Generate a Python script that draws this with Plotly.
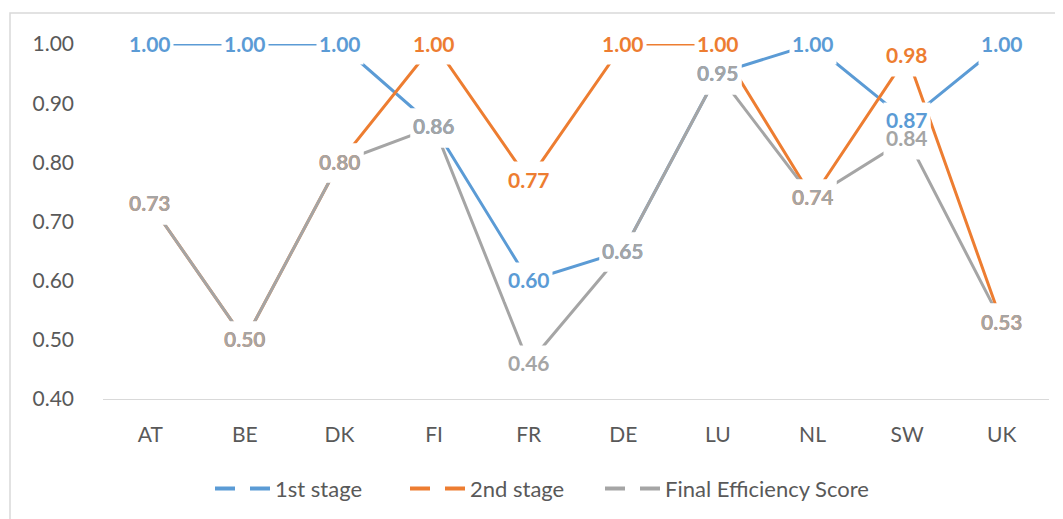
import plotly.graph_objects as go

categories = ["AT", "BE", "DK", "FI", "FR", "DE", "LU", "NL", "SW", "UK"]
stage1 = [1.00, 1.00, 1.00, 0.86, 0.60, 0.65, 0.95, 1.00, 0.87, 1.00]
stage2 = [0.73, 0.50, 0.80, 1.00, 0.77, 1.00, 1.00, 0.74, 0.98, 0.53]
final_score = [0.73, 0.50, 0.80, 0.86, 0.46, 0.65, 0.95, 0.74, 0.84, 0.53]
series_names = ["1st stage", "2nd stage", "Final Efficiency Score"]
y_ticks = [0.40, 0.50, 0.60, 0.70, 0.80, 0.90, 1.00]
y_tick_text = ["0.40", "0.50", "0.60", "0.70", "0.80", "0.90", "1.00"]

colors = ["#5B9BD5", "#ED7D31", "#A5A5A5"]
FONT = "Lato"
TXT = "#595959"

series = [stage1, stage2, final_score]

# page body has an 8px default margin: figure is sized/offset to compensate
W, H = 1055, 511
ML, MT = 95, 36
PW, PH = 946, 355

fig = go.Figure()

# data lines (no legend)
for name, vals, col in zip(series_names, series, colors):
    fig.add_trace(go.Scatter(
        x=categories, y=vals, mode="lines", name=name,
        line=dict(color=col, width=3), cliponaxis=False, showlegend=False,
        hoverinfo="skip"))

# legend entries with dashed symbols
for name, col in zip(series_names, colors):
    fig.add_trace(go.Scatter(
        x=[None], y=[None], mode="lines", name=name,
        line=dict(color=col, width=4, dash="20px,15px"), showlegend=True))
# invisible spacer entry so the last legend text is not clipped
fig.add_trace(go.Scatter(
    x=[None], y=[None], mode="lines", name=" ",
    line=dict(color="rgba(0,0,0,0)", width=0), showlegend=True))

annotations = []
# white label backgrounds first
for vals in series:
    for c, v in zip(categories, vals):
        annotations.append(dict(
            x=c, y=v, xref="x", yref="y", text=" ", showarrow=False,
            bgcolor="white", width=44, height=36, yshift=-1,
            font=dict(family=FONT, size=21, color="white")))
# colored label texts
for vals, col in zip(series, colors):
    for c, v in zip(categories, vals):
        annotations.append(dict(
            x=c, y=v, xref="x", yref="y", text="<b>%.2f</b>" % v,
            showarrow=False, yshift=1,
            font=dict(family=FONT, size=21, color=col)))

fig.update_layout(
    width=W, height=H,
    margin=dict(l=ML, r=W - ML - PW, t=MT, b=H - MT - PH, autoexpand=False),
    paper_bgcolor="white", plot_bgcolor="white",
    font=dict(family=FONT, size=21, color=TXT),
    annotations=annotations,
    showlegend=True,
    legend=dict(orientation="h", x=(210 - 103) / PW, xanchor="left",
                y=-(489 - 399.3) / PH, yanchor="middle",
                font=dict(family=FONT, size=22, color=TXT),
                itemwidth=55, entrywidth=125, tracegroupgap=0),
    shapes=[dict(type="rect", xref="paper", yref="paper",
                 x0=(10 - 103) / PW, x1=(1075 - 103) / PW,
                 y0=-(530 - 399.3) / PH, y1=1 + (44 - 13) / PH,
                 line=dict(color="#D9D9D9", width=1.5), layer="below")],
)
fig.update_xaxes(
    type="category", range=[-0.5, len(categories) - 0.5],
    showgrid=False, showline=True, linecolor="#D9D9D9",
    linewidth=1, ticks="", tickfont=dict(family=FONT, size=21, color=TXT),
    ticklabelstandoff=17, zeroline=False)
fig.update_yaxes(
    range=[0.4, 1.0], showgrid=False, showline=False, zeroline=False,
    tickvals=y_ticks, ticktext=y_tick_text, ticks="",
    tickfont=dict(family=FONT, size=21, color=TXT), ticklabelstandoff=28)

fig.write_html("out.html")
